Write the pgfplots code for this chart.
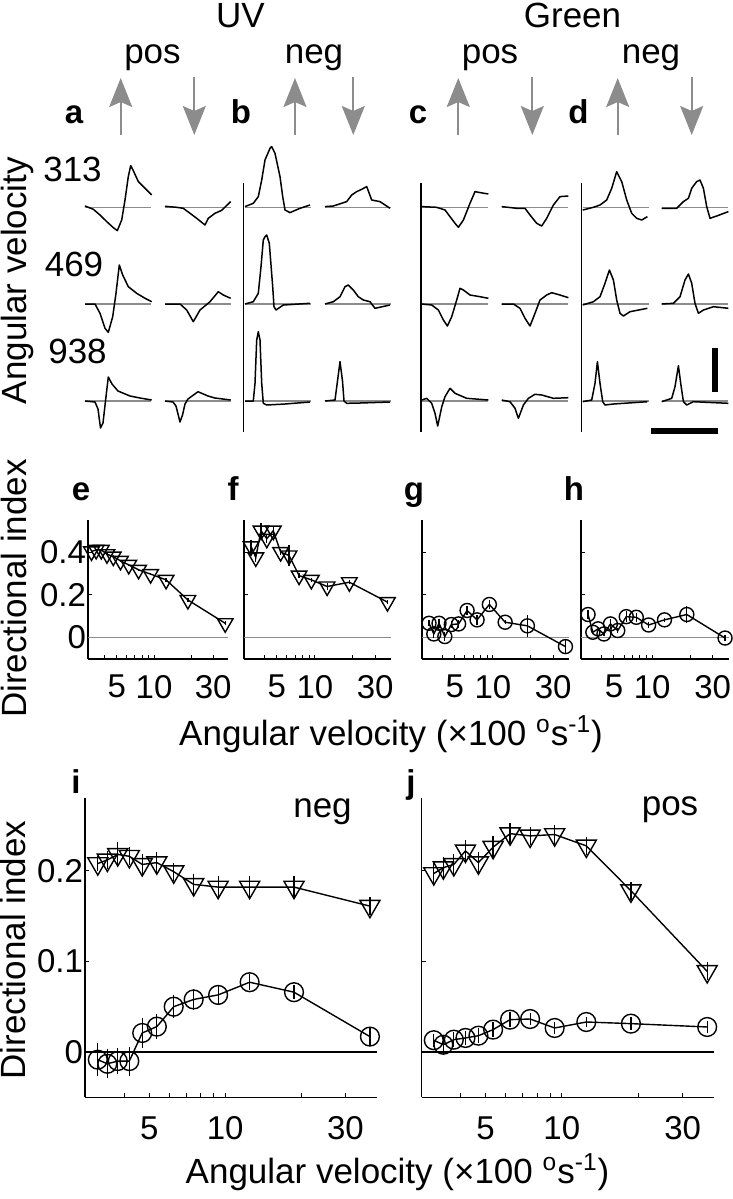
\documentclass[border=0pt]{standalone}
\usepackage{fontspec}
\setmainfont{Liberation Sans}
\usepackage{pgfplots}
\pgfplotsset{compat=1.18}
\usetikzlibrary{arrows.meta}

\definecolor{arrgray}{RGB}{140,140,140}
\definecolor{basegray}{RGB}{140,140,140}

\newcommand{\lab}{\fontsize{17.5}{20}\selectfont}
\newcommand{\tlab}{\fontsize{16.5}{19}\selectfont}
\newcommand{\plab}{\fontsize{16.5}{19}\selectfont\bfseries}

% trace: #1 = x offset (px), #2 = baseline (px), #3 = t v pairs
\newcommand{\tr}[3]{%
  \draw[basegray, line width=0.55pt] (axis cs:#1,#2) -- (axis cs:{#1+66},#2);
  \addplot[black, line width=0.75pt, line join=round] table[header=false, row sep=\\,
     x expr={#1+\thisrowno{0}}, y expr={#2-\thisrowno{1}}] {#3};
}
\tikzset{garr/.style={arrgray, line width=1pt, -{Stealth[length=14.5pt, width=11.5pt, inset=2.5pt]}}}
\newcommand{\uparr}[1]{\draw[garr] (axis cs:#1,135) -- (axis cs:#1,78);}
\newcommand{\dnarr}[1]{\draw[garr] (axis cs:#1,77) -- (axis cs:#1,135);}

\pgfplotsset{
  panel/.style={scale only axis, axis x line=bottom, axis y line=left,
    axis line style={-, line width=0.75pt},
    xtick={5,10,30}, xticklabels={5,10,30},
    minor xtick={4,6,7,8,9,20},
    tick align=inside, major tick length=2pt, minor tick length=2pt,
    tick style={black, line width=0.5pt},
    tick label style={font=\tlab},
    yticklabel style={xshift=2.5pt},
    clip=false},
  tri/.style={black, line width=0.7pt, mark=triangle,
    mark options={rotate=180, solid},
    error bars/.cd, y dir=both, y explicit, error mark=none,
    error bar style={line width=0.6pt}},
  circ/.style={black, line width=0.7pt, mark=o,
    mark options={solid},
    error bars/.cd, y dir=both, y explicit, error mark=none,
    error bar style={line width=0.6pt}},
}

\begin{document}
\begin{tikzpicture}

% ---------------- overlay with traces and annotations (pixel units) -------------
\begin{axis}[at={(0pt,0pt)}, anchor=south west, width=366.5pt, height=599.5pt,
  scale only axis, hide axis, clip=false, xmin=0, xmax=733, ymin=0, ymax=1199,
  y dir=reverse]
% panel a
\tr{85}{207.3}{0 1.3\\ 8.3 -2\\ 15 -7.7\\ 21.7 -14.3\\ 28.3 -20.3\\ 32.3 -23.3\\ 36.7 -12.7\\ 40 7.3\\ 43.3 30.7\\ 45.7 41.7\\ 48.3 36.7\\ 53.3 25.7\\ 60 19\\ 66.7 12.3\\}
\tr{165}{207.3}{0 1\\ 11.7 0\\ 18.3 -1\\ 25 -6\\ 31.7 -11\\ 36.7 -15\\ 40 -17.7\\ 43.3 -11\\ 50 -6\\ 56.7 -3\\ 65.7 5.7\\}
\tr{85}{304}{0 0\\ 10 0\\ 15 -9.3\\ 20 -24.3\\ 23.3 -28.3\\ 27.7 -12.7\\ 31 10.7\\ 34.3 39\\ 37.7 29\\ 43.3 17.3\\ 51.7 10.7\\ 60 5.7\\ 66.7 2.3\\}
\tr{165}{304}{0 0\\ 15 0\\ 21.7 -6\\ 28.3 -17.7\\ 35 -6\\ 45 2.3\\ 53.3 12.3\\ 58.3 9\\ 65.7 5.7\\}
\tr{85}{401}{0 0\\ 10 -1\\ 13 -8\\ 15.5 -27\\ 18 -22\\ 20.5 0\\ 23.3 24\\ 27 17\\ 33 10\\ 45 5\\ 55 3\\ 66.7 1\\}
\tr{165}{401}{0 0\\ 8 -1\\ 11 -5\\ 15 -21\\ 17.5 -14\\ 20 -3\\ 23 2\\ 33 9.3\\ 43 5\\ 50 3\\ 65.7 1\\}
% panel b
\tr{245}{207.3}{0 0.7\\ 8.3 4\\ 13.3 10.7\\ 16.7 27.3\\ 20 47.3\\ 25 59\\ 26.7 60.7\\ 30 54\\ 35 30.7\\ 37.7 10.7\\ 40 -2.7\\ 45 -5.3\\ 55 -1\\ 65 2.3\\}
\tr{325}{207.3}{0 0.7\\ 8.3 1.3\\ 21.7 5.7\\ 26.7 12.3\\ 31.7 15.7\\ 36.7 18\\ 41.7 20.7\\ 46.7 7.3\\ 55 5.7\\ 65 -1\\}
\tr{245}{304}{0 0\\ 8.3 2.3\\ 13.3 10.7\\ 16 37.3\\ 18.3 64\\ 20 67.3\\ 21.7 69\\ 24.3 60.7\\ 27.7 17.3\\ 29 -2.7\\ 31 -6\\ 38.3 -1\\ 65 0.7\\}
\tr{325}{304}{0 0\\ 8.3 2.3\\ 15 7.3\\ 20 17.3\\ 23.3 19\\ 28.3 14\\ 33.3 7.3\\ 38.3 4\\ 45 2.3\\ 50 -4.3\\ 65 -1\\}
\tr{245}{401}{0 0\\ 8.3 0\\ 10 17.7\\ 11.7 61\\ 13.3 69.3\\ 15 61\\ 16.7 17.7\\ 18.3 -2.3\\ 21.7 -4\\ 40 -3\\ 65 -1\\}
\tr{325}{401}{0 0\\ 10 1\\ 12.5 20\\ 15 39.3\\ 17.5 20\\ 19 0\\ 21.7 -2.3\\ 35 -2\\ 65 -1\\}
% panel c
\tr{421.7}{207.3}{0 0.7\\ 15 0\\ 23.3 -2.7\\ 28.3 -9.3\\ 33.3 -16\\ 36.7 -20\\ 41.7 -12.7\\ 48.3 4\\ 53.3 15.7\\ 58.3 14.7\\ 66.7 13.3\\}
\tr{501.7}{207.3}{0 0.7\\ 15 -1\\ 23.3 -1\\ 28.3 -7.7\\ 35 -16\\ 40 -18.7\\ 45 -11\\ 51.7 2.3\\ 58.3 10.7\\ 66.7 11.3\\}
\tr{421.7}{304}{0 0\\ 10 -1\\ 16.7 -6\\ 21.7 -16\\ 25.7 -22\\ 30 -12.7\\ 35 4\\ 38.3 15.7\\ 41.7 14\\ 48.3 9\\ 58.3 7.3\\ 66.7 5.7\\}
\tr{501.7}{304}{0 0\\ 11.7 0\\ 18.3 -4.3\\ 23.3 -14.3\\ 28.3 -22\\ 33.3 -9.3\\ 38.3 4\\ 45 9\\ 50 11.3\\ 58.3 9\\ 66.7 6.3\\}
\tr{421.7}{401}{0 1\\ 5 2.7\\ 10 -2.3\\ 13.3 -12.3\\ 16 -25\\ 20 -6\\ 23.3 4.3\\ 28.3 12.7\\ 33.3 7.7\\ 45 2.7\\ 66.7 1\\}
\tr{501.7}{401}{0 1\\ 8.3 -0.7\\ 13.3 -7.3\\ 16.7 -17.3\\ 21.7 -4\\ 26.7 2.7\\ 33.3 6.7\\ 40 6\\ 51.7 2.7\\ 66.7 3.3\\}
% panel d
\tr{582.7}{207.3}{0 -2.7\\ 10.7 0\\ 17.3 2.3\\ 24 7.3\\ 29 19\\ 34 35.7\\ 39 25.7\\ 44 7.3\\ 49 -6\\ 54 -11\\ 59 -12.7\\ 64.7 -9.3\\}
\tr{661.7}{207.3}{0 -1\\ 15 -1\\ 21.7 5.7\\ 26.7 9\\ 30 19\\ 35 25.7\\ 38.3 27.3\\ 41.7 19\\ 45 0.7\\ 48.3 -11\\ 55 -8.7\\ 66.7 -4.3\\}
\tr{582.7}{304}{0 -1\\ 10.7 2.3\\ 17.3 7.3\\ 22.3 20.7\\ 26.7 34\\ 30.7 24\\ 34 4\\ 37.3 -9.3\\ 40.7 -12\\ 47.3 -7.7\\ 64.7 -4.3\\}
\tr{661.7}{304}{0 0\\ 11.7 0.7\\ 18.3 7.3\\ 23.3 24\\ 26.7 30\\ 30 20.7\\ 33.3 0.7\\ 36.7 -9.3\\ 41.7 -6\\ 51.7 -2.7\\ 66.7 -4.3\\}
\tr{582.7}{401}{0 -0.7\\ 9 1\\ 12.3 17.7\\ 14.7 39.3\\ 17.3 17.7\\ 20 -0.7\\ 22.3 -4\\ 30.7 -3\\ 64.7 -0.7\\}
\tr{661.7}{401}{0 -0.7\\ 10 2.7\\ 13.3 14.3\\ 16.7 35.3\\ 19 17.7\\ 21.7 -0.7\\ 25 -4\\ 31.7 -0.7\\ 66.7 -2.3\\}

% panel separator lines
\draw[black, line width=0.7pt] (axis cs:243.3,183) -- (axis cs:243.3,432);
\draw[black, line width=0.7pt] (axis cs:421,183) -- (axis cs:421,432);
\draw[black, line width=0.7pt] (axis cs:581.7,183) -- (axis cs:581.7,432);

% scale bars
\fill[black] (axis cs:712,348) rectangle (axis cs:718,392);
\fill[black] (axis cs:651,427.5) rectangle (axis cs:718,433.5);

% arrows
\uparr{120.7}\uparr{295}\uparr{458.3}\uparr{617.7}
\dnarr{194.3}\dnarr{353.3}\dnarr{532.3}\dnarr{691.7}

% texts
\node[anchor=base, font=\lab, inner sep=0pt] at (axis cs:240.5,27) {UV};
\node[anchor=base, font=\lab, inner sep=0pt] at (axis cs:572.5,27) {Green};
\node[anchor=base, font=\lab, inner sep=0pt] at (axis cs:152.5,63) {pos};
\node[anchor=base, font=\lab, inner sep=0pt] at (axis cs:314,63) {neg};
\node[anchor=base, font=\lab, inner sep=0pt] at (axis cs:490,63) {pos};
\node[anchor=base, font=\lab, inner sep=0pt] at (axis cs:651,63) {neg};
\node[anchor=base, font=\plab, inner sep=0pt] at (axis cs:74,123.3) {a};
\node[anchor=base, font=\plab, inner sep=0pt] at (axis cs:241,123.3) {b};
\node[anchor=base, font=\plab, inner sep=0pt] at (axis cs:418,123.3) {c};
\node[anchor=base, font=\plab, inner sep=0pt] at (axis cs:578.5,123.3) {d};
\node[anchor=base, font=\lab, inner sep=0pt] at (axis cs:72.5,181.7) {313};
\node[anchor=base, font=\lab, inner sep=0pt] at (axis cs:74,276.7) {469};
\node[anchor=base, font=\lab, inner sep=0pt] at (axis cs:77.5,363.3) {938};
\node[anchor=center, font=\lab, inner sep=0pt, rotate=90] at (axis cs:17,280.5) {Angular velocity};

\node[anchor=base, font=\plab, inner sep=0pt] at (axis cs:81,500) {e};
\node[anchor=base, font=\plab, inner sep=0pt] at (axis cs:233,500) {f};
\node[anchor=base, font=\plab, inner sep=0pt] at (axis cs:414,500) {g};
\node[anchor=base, font=\plab, inner sep=0pt] at (axis cs:574,500) {h};
\node[anchor=center, font=\lab, inner sep=0pt, rotate=90] at (axis cs:14,588.5) {Directional index};
\node[anchor=base, font=\lab, inner sep=0pt] at (axis cs:391,745) {Angular velocity (×100 \textsuperscript{o}s\textsuperscript{-1})};

\node[anchor=base, font=\plab, inner sep=0pt] at (axis cs:76,793) {i};
\node[anchor=base, font=\plab, inner sep=0pt] at (axis cs:411,793) {j};
\node[anchor=base, font=\lab, inner sep=0pt] at (axis cs:322.5,817) {neg};
\node[anchor=base, font=\lab, inner sep=0pt] at (axis cs:670,815) {pos};
\node[anchor=center, font=\lab, inner sep=0pt, rotate=90] at (axis cs:13,950) {Directional index};
\node[anchor=base, font=\lab, inner sep=0pt] at (axis cs:397.5,1183) {Angular velocity (×100 \textsuperscript{o}s\textsuperscript{-1})};
\end{axis}

% ---------------- panel e ----------------
\begin{axis}[xmode=log, panel, at={(44pt,270pt)}, width=70pt, height=69.5pt,
  xmin=2.93, xmax=39.5, ymin=-0.1, ymax=0.55,
  ytick={0,0.2,0.4}, yticklabels={0,0.2,0.4},
  xticklabel style={yshift=-4.5pt}]
\addplot[basegray, line width=0.55pt] coordinates {(2.93,0) (39.5,0)};
\addplot[mark size=4.5pt, tri] table[x=x, y=y, y error=e, row sep=\\] {
x y e\\ 3.125 0.403 0.006\\ 3.409 0.41 0.006\\ 3.75 0.41 0.006\\ 4.167 0.39 0.006\\
4.688 0.379 0.006\\ 5.357 0.359 0.006\\ 6.25 0.34 0.006\\ 7.5 0.317 0.006\\
9.375 0.297 0.006\\ 12.5 0.27 0.008\\ 18.75 0.176 0.008\\ 37.5 0.067 0.01\\};
\end{axis}

% ---------------- panel f ----------------
\begin{axis}[xmode=log, panel, at={(122pt,270pt)}, width=73.5pt, height=69.5pt,
  xmin=2.75, xmax=40, ymin=-0.1, ymax=0.55,
  ytick={0,0.2,0.4}, yticklabels={}, xticklabel style={yshift=-4.5pt}]
\addplot[basegray, line width=0.55pt] coordinates {(2.75,0) (40,0)};
\addplot[mark size=4.5pt, tri] table[x=x, y=y, y error=e, row sep=\\] {
x y e\\ 3.125 0.427 0.03\\ 3.409 0.375 0.02\\ 3.75 0.5 0.035\\ 4.167 0.4625 0.02\\
4.688 0.5 0.02\\ 5.357 0.4 0.015\\ 6.25 0.384 0.05\\ 7.5 0.29 0.01\\
9.375 0.27 0.01\\ 12.5 0.239 0.015\\ 18.75 0.259 0.01\\ 37.5 0.166 0.01\\};
\end{axis}

% ---------------- panel g ----------------
\begin{axis}[xmode=log, panel, at={(211pt,270pt)}, width=73.5pt, height=69.5pt,
  xmin=2.75, xmax=40, ymin=-0.1, ymax=0.55,
  ytick={0,0.2,0.4}, yticklabels={}, xticklabel style={yshift=-4.5pt}]
\addplot[basegray, line width=0.55pt] coordinates {(2.75,0) (40,0)};
\addplot[mark size=3.5pt, circ] table[x=x, y=y, y error=e, row sep=\\] {
x y e\\ 3.125 0.067 0.015\\ 3.409 0.017 0.02\\ 3.75 0.067 0.02\\ 4.167 0.005 0.02\\
4.688 0.061 0.015\\ 5.357 0.064 0.02\\ 6.25 0.127 0.02\\ 7.5 0.083 0.025\\
9.375 0.155 0.02\\ 12.5 0.072 0.01\\ 18.75 0.055 0.05\\ 37.5 -0.042 0.03\\};
\end{axis}

% ---------------- panel h ----------------
\begin{axis}[xmode=log, panel, at={(290.5pt,270pt)}, width=73.8pt, height=69.5pt,
  xmin=2.75, xmax=40, ymin=-0.1, ymax=0.55,
  ytick={0,0.2,0.4}, yticklabels={}, xticklabel style={yshift=-4.5pt}]
\addplot[basegray, line width=0.55pt] coordinates {(2.75,0) (40,0)};
\addplot[mark size=3.5pt, circ] table[x=x, y=y, y error=e, row sep=\\] {
x y e\\ 3.125 0.108 0.02\\ 3.409 0.025 0.01\\ 3.75 0.041 0.01\\ 4.167 0.017 0.01\\
4.688 0.064 0.025\\ 5.357 0.033 0.01\\ 6.25 0.098 0.025\\ 7.5 0.095 0.02\\
9.375 0.059 0.015\\ 12.5 0.083 0.01\\ 18.75 0.108 0.04\\ 37.5 -0.002 0.015\\};
\end{axis}

% ---------------- panel i ----------------
\begin{axis}[xmode=log, panel, at={(42.5pt,50.85pt)}, width=146pt, height=149.5pt,
  xmin=2.78, xmax=40, ymin=-0.05, ymax=0.28,
  ytick={0,0.1,0.2}, yticklabels={0,0.1,0.2}, xticklabel style={yshift=-6pt}]
\addplot[black, line width=0.65pt] coordinates {(2.78,0) (40,0)};
\addplot[mark size=5.8pt, tri] table[x=x, y=y, y error=e, row sep=\\] {
x y e\\ 3.125 0.208 0.008\\ 3.409 0.212 0.01\\ 3.75 0.218 0.014\\ 4.167 0.216 0.01\\
4.688 0.207 0.012\\ 5.357 0.209 0.012\\ 6.25 0.199 0.01\\ 7.5 0.185 0.012\\
9.375 0.182 0.012\\ 12.5 0.182 0.012\\ 18.75 0.182 0.012\\ 37.5 0.161 0.01\\};
\addplot[mark size=4.7pt, circ] table[x=x, y=y, y error=e, row sep=\\] {
x y e\\ 3.125 -0.0085 0.018\\ 3.409 -0.013 0.016\\ 3.75 -0.010 0.014\\ 4.167 -0.010 0.016\\
4.688 0.021 0.017\\ 5.357 0.028 0.014\\ 6.25 0.050 0.013\\ 7.5 0.058 0.012\\
9.375 0.063 0.011\\ 12.5 0.077 0.009\\ 18.75 0.066 0.008\\ 37.5 0.017 0.009\\};
\end{axis}

% ---------------- panel j ----------------
\begin{axis}[xmode=log, panel, at={(210.85pt,50.85pt)}, width=146.3pt, height=149.5pt,
  xmin=2.8, xmax=40, ymin=-0.05, ymax=0.28,
  ytick={0,0.1,0.2}, yticklabels={}, xticklabel style={yshift=-6pt}]
\addplot[black, line width=0.65pt] coordinates {(2.8,0) (40,0)};
\addplot[mark size=5.8pt, tri] table[x=x, y=y, y error=e, row sep=\\] {
x y e\\ 3.125 0.197 0.012\\ 3.409 0.2035 0.012\\ 3.75 0.207 0.012\\ 4.167 0.222 0.012\\
4.688 0.209 0.012\\ 5.357 0.226 0.012\\ 6.25 0.241 0.012\\ 7.5 0.2385 0.01\\
9.375 0.240 0.01\\ 12.5 0.2275 0.01\\ 18.75 0.178 0.01\\ 37.5 0.089 0.01\\};
\addplot[mark size=4.7pt, circ] table[x=x, y=y, y error=e, row sep=\\] {
x y e\\ 3.125 0.013 0.007\\ 3.409 0.008 0.01\\ 3.75 0.0136 0.008\\ 4.167 0.0155 0.008\\
4.688 0.018 0.008\\ 5.357 0.0247 0.008\\ 6.25 0.0357 0.008\\ 7.5 0.0364 0.007\\
9.375 0.0265 0.007\\ 12.5 0.0331 0.006\\ 18.75 0.0313 0.007\\ 37.5 0.0276 0.007\\};
\end{axis}

\pgfresetboundingbox
\path[use as bounding box] (0pt,0pt) rectangle (366.5pt,599.5pt);
\end{tikzpicture}
\end{document}
